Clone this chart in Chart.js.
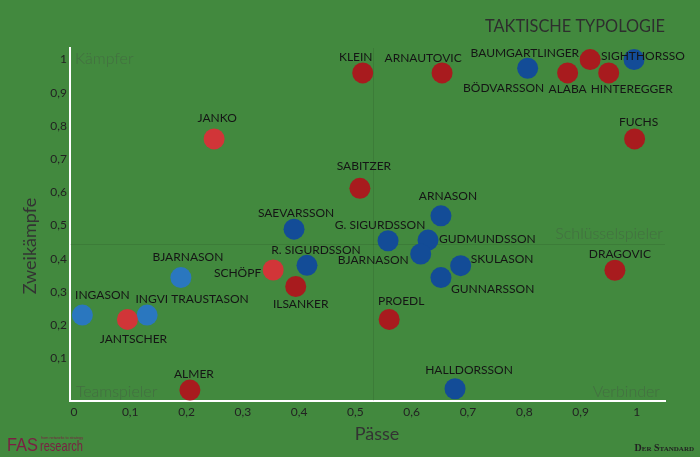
<!DOCTYPE html>
<html lang="de">
<head>
<meta charset="UTF-8">
<title>Taktische Typologie</title>
<script src="https://cdn.jsdelivr.net/npm/chart.js"></script>
<style>
    html, body {
        margin: 0;
        padding: 0;
        background: #42893e;
    }
    canvas {
        display: block;
    }
</style>
</head>
<body>
<canvas id="typologie" width="700" height="457"></canvas>

<script>
    // Spieler, Pässe (x), Zweikämpfe (y), Gruppe
    const spieler = ["KLEIN", "ARNAUTOVIC", "BAUMGARTLINGER", "BÖDVARSSON", "ALABA", "HINTEREGGER",
        "SIGHTHORSSO", "FUCHS", "JANKO", "SABITZER", "SAEVARSSON", "G. SIGURDSSON", "ARNASON",
        "GUDMUNDSSON", "BJARNASON", "SKULASON", "GUNNARSSON", "R. SIGURDSSON", "SCHÖPF", "ILSANKER",
        "PROEDL", "DRAGOVIC", "HALLDORSSON", "ALMER", "BJARNASON", "INGASON", "INGVI TRAUSTASON", "JANTSCHER"];
    const paesse = [0.513, 0.654, 0.917, 0.806, 0.877, 0.950,
        0.995, 0.996, 0.249, 0.508, 0.391, 0.558, 0.652,
        0.629, 0.616, 0.687, 0.652, 0.414, 0.354, 0.394,
        0.560, 0.961, 0.677, 0.206, 0.190, 0.015, 0.130, 0.095];
    const zweikaempfe = [0.960, 0.960, 1.000, 0.974, 0.960, 0.960,
        1.000, 0.761, 0.761, 0.612, 0.489, 0.454, 0.529,
        0.456, 0.414, 0.379, 0.343, 0.380, 0.366, 0.316,
        0.217, 0.365, 0.008, 0.004, 0.343, 0.230, 0.230, 0.217];
    // 0 = Österreich dunkel, 1 = Österreich hell, 2 = Island dunkel, 3 = Island hell
    const gruppe = [0, 0, 0, 2, 0, 0,
        2, 0, 1, 0, 2, 2, 2,
        2, 2, 2, 2, 2, 1, 0,
        0, 0, 2, 0, 3, 3, 3, 1];

    const xTicks = [0, 0.1, 0.2, 0.3, 0.4, 0.5, 0.6, 0.7, 0.8, 0.9, 1];
    const xTickLabels = ["0", "0,1", "0,2", "0,3", "0,4", "0,5", "0,6", "0,7", "0,8", "0,9", "1"];
    const yTicks = [0.1, 0.2, 0.3, 0.4, 0.5, 0.6, 0.7, 0.8, 0.9, 1];
    const yTickLabels = ["0,1", "0,2", "0,3", "0,4", "0,5", "0,6", "0,7", "0,8", "0,9", "1"];

    const quadranten = ["Kämpfer", "Teamspieler", "Verbinder", "Schlüsselspieler"];
    const trennPaesse = 0.531;
    const trennZweikampf = 0.444;

    // Farben je Gruppe
    const farben = ["#a81b1e", "#d13538", "#134c97", "#2a77bf"];

    // Lage der Namen zum Punkt: [Ausrichtung, dx, dy]
    const beschriftung = [
        ["center", -7, -16], ["center", -19, -15], ["right", -11, -6], ["center", -24, 20],
        ["center", 0, 16], ["left", -18, 16], ["left", -33, -3], ["center", 4, -17],
        ["center", 3, -21], ["center", 4, -22], ["center", 2, -16], ["center", -8, -16],
        ["center", 7, -20], ["left", 11, -1], ["right", -12, 6], ["left", 10, -7],
        ["left", 10, 12], ["center", 9, -15], ["right", -12, 3], ["center", 5, 18],
        ["center", 12, -18], ["center", 5, -16], ["center", 14, -19], ["center", 4, -16],
        ["center", 7, -20], ["center", 20, -20], ["center", 45, -16], ["center", 6, 20]
    ];

    const datasets = farben.map((farbe, g) => ({
        label: "Gruppe " + g,
        data: spieler.map((s, i) => ({ x: paesse[i], y: zweikaempfe[i], g: gruppe[i] }))
            .filter(p => p.g === g),
        backgroundColor: farbe,
        borderWidth: 0,
        pointRadius: 10.5,
        pointHoverRadius: 10.5
    }));

    const deko = {
        id: "deko",
        beforeDraw(chart) {
            const ctx = chart.ctx;
            ctx.save();
            ctx.fillStyle = "#42893e";
            ctx.fillRect(0, 0, chart.width, chart.height);
            ctx.restore();
        },
        beforeDatasetsDraw(chart) {
            const { ctx, chartArea, scales } = chart;
            const qx = Math.round(scales.x.getPixelForValue(trennPaesse)) + 0.5;
            const qy = Math.round(scales.y.getPixelForValue(trennZweikampf)) + 0.5;
            ctx.save();
            ctx.strokeStyle = "rgba(0,0,0,0.09)";
            ctx.lineWidth = 1;
            ctx.beginPath();
            ctx.moveTo(qx, chartArea.top);
            ctx.lineTo(qx, chartArea.bottom);
            ctx.moveTo(chartArea.left, qy);
            ctx.lineTo(chartArea.right, qy);
            ctx.stroke();

            ctx.font = "300 16px Lato";
            ctx.fillStyle = "rgba(70,70,70,0.4)";
            ctx.textBaseline = "middle";
            ctx.textAlign = "left";
            ctx.fillText(quadranten[0], chartArea.left + 5, chartArea.top + 11);
            ctx.fillText(quadranten[1], chartArea.left + 6, chartArea.bottom - 9);
            ctx.textAlign = "right";
            ctx.fillText(quadranten[2], chartArea.right - 5, chartArea.bottom - 9);
            ctx.fillText(quadranten[3], chartArea.right - 2, qy - 11);
            ctx.restore();
        },
        afterDatasetsDraw(chart) {
            const { ctx, scales } = chart;
            ctx.save();
            ctx.font = "12px Lato";
            ctx.fillStyle = "#151515";
            ctx.textBaseline = "middle";
            spieler.forEach((name, i) => {
                const px = scales.x.getPixelForValue(paesse[i]);
                const py = scales.y.getPixelForValue(zweikaempfe[i]);
                const [align, dx, dy] = beschriftung[i];
                ctx.textAlign = align;
                ctx.fillText(name, px + dx, py + dy);
            });

            // Titel
            ctx.fillStyle = "#2e2e2e";
            ctx.font = "17px Lato";
            ctx.textAlign = "right";
            ctx.fillText("TAKTISCHE TYPOLOGIE", 665, 27, 180);

            // Achsentitel
            ctx.fillStyle = "#333";
            ctx.font = "18px Lato";
            ctx.textAlign = "center";
            ctx.fillText("Pässe", 377, 434);
            ctx.translate(30, 246);
            ctx.rotate(-Math.PI / 2);
            ctx.fillText("Zweikämpfe", 0, 0);
            ctx.setTransform(1, 0, 0, 1, 0, 0);

            // Logos
            ctx.fillStyle = "#7b1f43";
            ctx.textBaseline = "alphabetic";
            ctx.textAlign = "left";
            ctx.font = "19px 'Liberation Sans Narrow', 'Liberation Sans'";
            ctx.fillText("FAS", 7, 451, 31);
            ctx.font = "14px 'Liberation Sans Narrow', 'Liberation Sans'";
            ctx.fillText("research", 40, 451, 43);
            ctx.font = "4px 'Liberation Sans'";
            ctx.fillText("from networks to strategy", 41, 439, 42);

            ctx.fillStyle = "#222";
            ctx.font = "small-caps bold 10px 'Liberation Serif'";
            ctx.textAlign = "right";
            ctx.fillText("Der Standard", 694, 451, 62);
            ctx.restore();
        }
    };

    const tickFont = { family: "Lato", size: 12 };

    new Chart(document.getElementById("typologie").getContext("2d"), {
        type: "scatter",
        data: { datasets: datasets },
        options: {
            responsive: false,
            animation: false,
            events: [],
            layout: { padding: { top: 48, right: 35, left: 0, bottom: 0 } },
            plugins: {
                legend: { display: false },
                tooltip: { enabled: false }
            },
            scales: {
                x: {
                    type: "linear",
                    min: -0.007,
                    max: 1.05,
                    grid: { drawOnChartArea: false, drawTicks: false },
                    border: { display: true, color: "#ffffff", width: 2 },
                    ticks: {
                        font: tickFont,
                        color: "#222",
                        padding: 4,
                        maxRotation: 0,
                        callback: (v, i) => xTickLabels[i]
                    },
                    afterBuildTicks: s => { s.ticks = xTicks.map(v => ({ value: v })); },
                    afterFit: s => { s.height = 56; }
                },
                y: {
                    type: "linear",
                    min: -0.029,
                    max: 1.035,
                    grid: { drawOnChartArea: false, drawTicks: false },
                    border: { display: true, color: "#ffffff", width: 2 },
                    ticks: {
                        font: tickFont,
                        color: "#222",
                        padding: 3,
                        callback: (v, i) => yTickLabels[i]
                    },
                    afterBuildTicks: s => { s.ticks = yTicks.map(v => ({ value: v })); },
                    afterFit: s => { s.width = 70; }
                }
            }
        },
        plugins: [deko]
    });
</script>
</body>
</html>
